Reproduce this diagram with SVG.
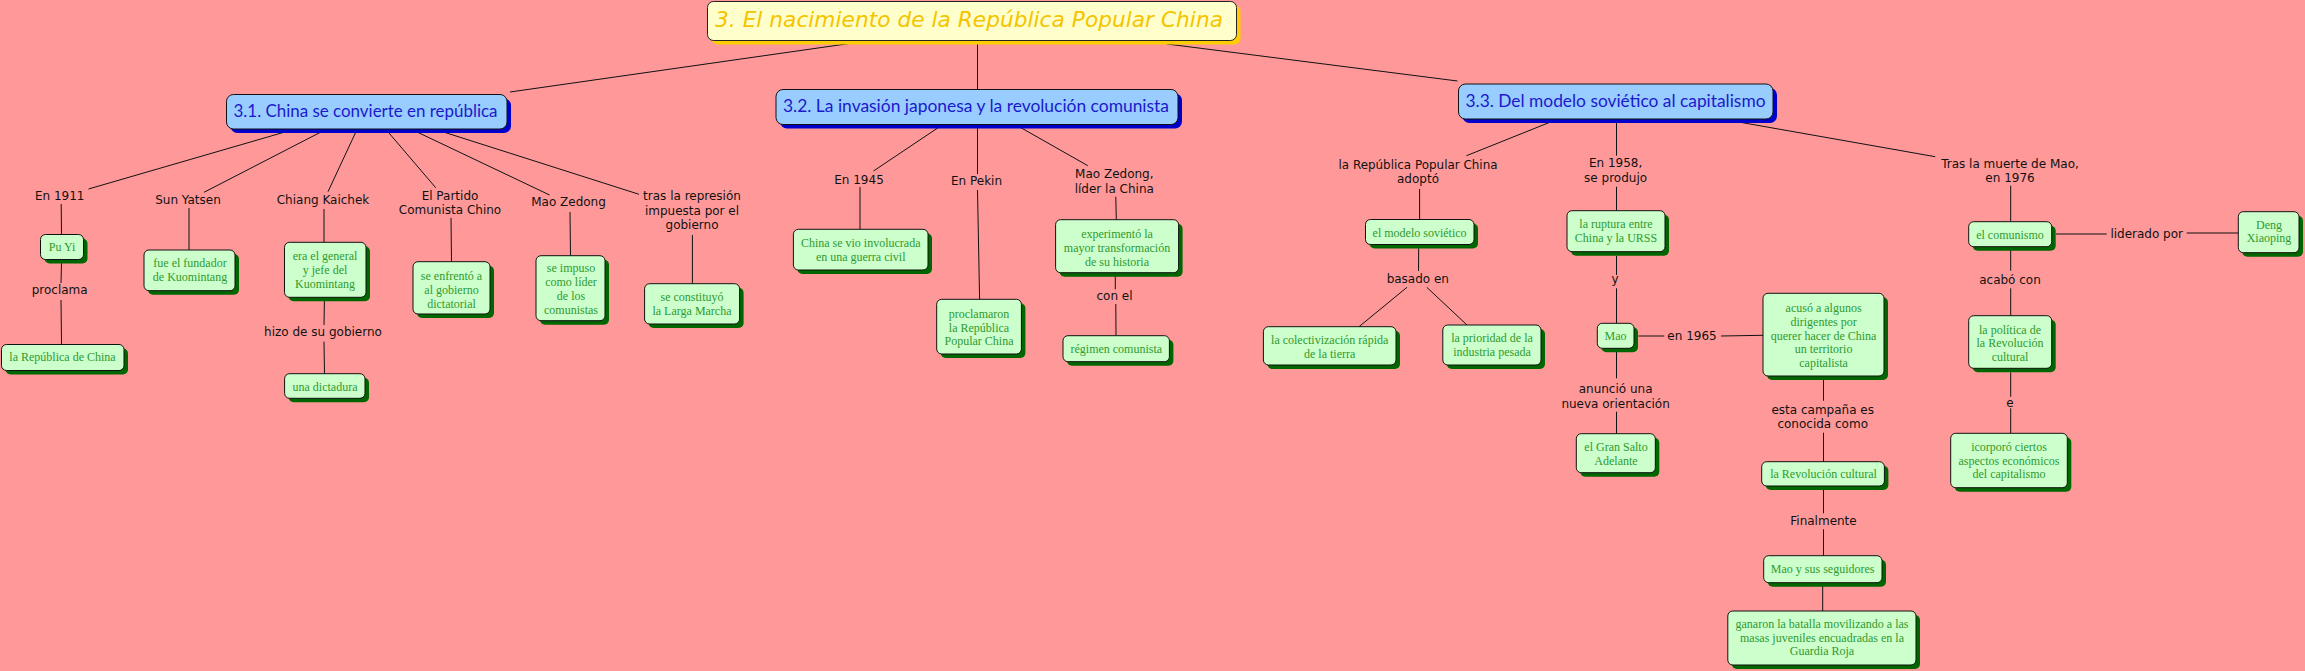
<svg xmlns="http://www.w3.org/2000/svg" width="2305" height="671" viewBox="0 0 2305 671">
<style>
.bg{fill:#ff9999}
.tsh{fill:#ffcc00}
.tbx{fill:#ffffcc;stroke:#222;stroke-width:1}
.ttx{font-family:"DejaVu Sans",sans-serif;font-style:italic;font-size:21px;fill:#f5c400}
.ssh{fill:#0000cc}
.sbx{fill:#99ccff;stroke:#111;stroke-width:1}
.stx{font-family:Lato,"Open Sans",sans-serif;font-size:17px;fill:#1a1acc}
.csh{fill:#006600}
.cbx{fill:#ccffcc;stroke:#111;stroke-width:1}
.ctx{font-family:"Liberation Serif",serif;font-size:12px;fill:#2f9a2f;text-anchor:middle}
.ltx{font-family:"DejaVu Sans",sans-serif;font-size:12px;fill:#111;text-anchor:middle}
#connectors line{stroke:#111;stroke-width:1}
</style>
<rect class="bg" x="0" y="0" width="2305" height="671"/>

<g id="connectors">
<line x1="510" y1="92" x2="853" y2="43"/>
<line x1="977.5" y1="41" x2="977.5" y2="89"/>
<line x1="1167" y1="44" x2="1457.5" y2="81"/>
<line x1="293.5" y1="129.5" x2="88.5" y2="189"/>
<line x1="325.8" y1="129.5" x2="204" y2="192.3"/>
<line x1="357" y1="129.5" x2="328" y2="191.7"/>
<line x1="386" y1="129.5" x2="435.7" y2="187.7"/>
<line x1="411.8" y1="129.5" x2="549.6" y2="195"/>
<line x1="435.7" y1="129.5" x2="639" y2="194.3"/>
<line x1="61.2" y1="204" x2="61.5" y2="234"/>
<line x1="61.5" y1="263" x2="61" y2="283"/>
<line x1="61" y1="300" x2="61.5" y2="344"/>
<line x1="189" y1="208" x2="189" y2="250"/>
<line x1="324" y1="209" x2="324" y2="242"/>
<line x1="324.4" y1="301" x2="324" y2="325"/>
<line x1="324" y1="341.7" x2="324.5" y2="373.7"/>
<line x1="451" y1="218" x2="451.5" y2="261.7"/>
<line x1="570" y1="212" x2="570.5" y2="255.7"/>
<line x1="692.4" y1="235" x2="692.4" y2="283.7"/>
<line x1="942.9" y1="124.5" x2="873.5" y2="171"/>
<line x1="977.5" y1="124.5" x2="977.5" y2="174"/>
<line x1="977.5" y1="190" x2="979.6" y2="299.3"/>
<line x1="1015.3" y1="124.5" x2="1087.8" y2="165.7"/>
<line x1="860" y1="187" x2="860" y2="229.3"/>
<line x1="1115.8" y1="196.7" x2="1116.3" y2="219.7"/>
<line x1="1115.3" y1="273" x2="1115.3" y2="289.3"/>
<line x1="1115.8" y1="304" x2="1116" y2="335.7"/>
<line x1="1558" y1="119" x2="1466.5" y2="155.7"/>
<line x1="1616.5" y1="119" x2="1616.5" y2="155.7"/>
<line x1="1733" y1="121" x2="1935.2" y2="156.7"/>
<line x1="1419.6" y1="189" x2="1419.6" y2="219.3"/>
<line x1="1418.7" y1="248.3" x2="1418.5" y2="271"/>
<line x1="1407" y1="287.3" x2="1359" y2="326.7"/>
<line x1="1426.8" y1="287.3" x2="1467" y2="325"/>
<line x1="1616.5" y1="186.7" x2="1616.5" y2="210.7"/>
<line x1="1616.5" y1="256" x2="1616.5" y2="275"/>
<line x1="1616.5" y1="288.3" x2="1616.5" y2="323.3"/>
<line x1="1638.4" y1="336" x2="1664.3" y2="336"/>
<line x1="1721" y1="336" x2="1763" y2="335.3"/>
<line x1="1616.5" y1="352" x2="1616.5" y2="378.3"/>
<line x1="1616.5" y1="411.7" x2="1616.5" y2="433.7"/>
<line x1="1823.5" y1="380" x2="1823.5" y2="400.7"/>
<line x1="1823.5" y1="432.7" x2="1823.5" y2="461.7"/>
<line x1="1823.5" y1="490" x2="1823.5" y2="513.3"/>
<line x1="1823.5" y1="529.3" x2="1823.5" y2="555.7"/>
<line x1="1822.7" y1="586" x2="1822.7" y2="611"/>
<line x1="2010.7" y1="185.7" x2="2010.7" y2="221.7"/>
<line x1="2056" y1="234" x2="2106.7" y2="234"/>
<line x1="2186.7" y1="233" x2="2238.3" y2="233"/>
<line x1="2010.7" y1="250" x2="2010.7" y2="270.7"/>
<line x1="2010.7" y1="288.3" x2="2010.7" y2="315.7"/>
<line x1="2010.7" y1="372.3" x2="2010.7" y2="396.7"/>
<line x1="2010.7" y1="408.3" x2="2010.7" y2="433.3"/>
</g>

<g id="title">
<rect class="tsh" x="711.5" y="5.5" width="529" height="39" rx="6"/>
<rect class="tbx" x="707.5" y="1.5" width="529" height="39" rx="6"/>
<text class="ttx" x="715" y="27" textLength="508" lengthAdjust="spacingAndGlyphs">3. El nacimiento de la República Popular China</text>
</g>

<g id="s31">
<rect class="ssh" x="230.5" y="98.5" width="280.5" height="34.5" rx="7"/>
<rect class="sbx" x="226.5" y="94.5" width="280.5" height="34.5" rx="7"/>
<text class="stx" x="233.5" y="117" textLength="264" lengthAdjust="spacingAndGlyphs">3.1. China se convierte en república</text>
</g>
<g id="s32">
<rect class="ssh" x="780" y="93.5" width="402" height="35" rx="7"/>
<rect class="sbx" x="776" y="89.5" width="402" height="35" rx="7"/>
<text class="stx" x="783" y="112" textLength="386" lengthAdjust="spacingAndGlyphs">3.2. La invasión japonesa y la revolución comunista</text>
</g>
<g id="s33">
<rect class="ssh" x="1462.5" y="88" width="314.5" height="35" rx="7"/>
<rect class="sbx" x="1458.5" y="84" width="314.5" height="35" rx="7"/>
<text class="stx" x="1465.5" y="107" textLength="300" lengthAdjust="spacingAndGlyphs">3.3. Del modelo soviético al capitalismo</text>
</g>

<g id="c-puyi"><rect class="csh" x="44.5" y="238.5" width="43" height="25" rx="5"/><rect class="cbx" x="40.5" y="234.5" width="43" height="25" rx="5"/><text class="ctx" x="62" y="251">Pu Yi</text></g>
<g id="c-repchina"><rect class="csh" x="5.5" y="348.5" width="122.5" height="26" rx="5"/><rect class="cbx" x="1.5" y="344.5" width="122.5" height="26" rx="5"/><text class="ctx" x="62.5" y="361">la República de China</text></g>
<g id="c-fundador"><rect class="csh" x="148" y="254" width="91" height="40.7" rx="5"/><rect class="cbx" x="144" y="250" width="91" height="40.7" rx="5"/><text class="ctx"><tspan x="190" y="267">fue el fundador</tspan><tspan x="190" y="281">de Kuomintang</tspan></text></g>
<g id="c-general"><rect class="csh" x="288.5" y="246.3" width="81.5" height="55" rx="5"/><rect class="cbx" x="284.5" y="242.3" width="81.5" height="55" rx="5"/><text class="ctx"><tspan x="325" y="260">era el general</tspan><tspan x="325" y="274">y jefe del</tspan><tspan x="325" y="288">Kuomintang</tspan></text></g>
<g id="c-dictadura"><rect class="csh" x="288.6" y="377.7" width="80.4" height="24.6" rx="5"/><rect class="cbx" x="284.6" y="373.7" width="80.4" height="24.6" rx="5"/><text class="ctx" x="325" y="391">una dictadura</text></g>
<g id="c-enfrento"><rect class="csh" x="417" y="265.7" width="77" height="52.3" rx="5"/><rect class="cbx" x="413" y="261.7" width="77" height="52.3" rx="5"/><text class="ctx"><tspan x="451.5" y="279.5">se enfrentó a</tspan><tspan x="451.5" y="293.5">al gobierno</tspan><tspan x="451.5" y="307.5">dictatorial</tspan></text></g>
<g id="c-impuso"><rect class="csh" x="540" y="259.7" width="69" height="65" rx="5"/><rect class="cbx" x="536" y="255.7" width="69" height="65" rx="5"/><text class="ctx"><tspan x="571" y="272">se impuso</tspan><tspan x="571" y="286">como líder</tspan><tspan x="571" y="300">de los</tspan><tspan x="571" y="314">comunistas</tspan></text></g>
<g id="c-larga"><rect class="csh" x="648.6" y="287.7" width="95" height="40.3" rx="5"/><rect class="cbx" x="644.6" y="283.7" width="95" height="40.3" rx="5"/><text class="ctx"><tspan x="692" y="300.5">se constituyó</tspan><tspan x="692" y="314.5">la Larga Marcha</tspan></text></g>
<g id="c-guerra"><rect class="csh" x="797.4" y="233.3" width="134.6" height="40.7" rx="5"/><rect class="cbx" x="793.4" y="229.3" width="134.6" height="40.7" rx="5"/><text class="ctx"><tspan x="860.7" y="247">China se vio involucrada</tspan><tspan x="860.7" y="261">en una guerra civil</tspan></text></g>
<g id="c-proclamaron"><rect class="csh" x="940.7" y="303.3" width="84.7" height="54.7" rx="5"/><rect class="cbx" x="936.7" y="299.3" width="84.7" height="54.7" rx="5"/><text class="ctx"><tspan x="979" y="317.5">proclamaron</tspan><tspan x="979" y="331.5">la República</tspan><tspan x="979" y="345">Popular China</tspan></text></g>
<g id="c-experimento"><rect class="csh" x="1059.6" y="223.7" width="123" height="53" rx="5"/><rect class="cbx" x="1055.6" y="219.7" width="123" height="53" rx="5"/><text class="ctx"><tspan x="1117" y="237.5">experimentó la</tspan><tspan x="1117" y="251.5">mayor transformación</tspan><tspan x="1117" y="265.5">de su historia</tspan></text></g>
<g id="c-regimen"><rect class="csh" x="1067" y="339.7" width="106.4" height="26" rx="5"/><rect class="cbx" x="1063" y="335.7" width="106.4" height="26" rx="5"/><text class="ctx" x="1116.3" y="352.5">régimen comunista</text></g>
<g id="c-modelo"><rect class="csh" x="1369.5" y="223.5" width="108.5" height="25" rx="5"/><rect class="cbx" x="1365.5" y="219.5" width="108.5" height="25" rx="5"/><text class="ctx" x="1419.6" y="236.5">el modelo soviético</text></g>
<g id="c-colectiv"><rect class="csh" x="1267.4" y="330.7" width="132.6" height="38.3" rx="5"/><rect class="cbx" x="1263.4" y="326.7" width="132.6" height="38.3" rx="5"/><text class="ctx"><tspan x="1329.7" y="344">la colectivización rápida</tspan><tspan x="1329.7" y="358">de la tierra</tspan></text></g>
<g id="c-prioridad"><rect class="csh" x="1446.8" y="329" width="98.2" height="40" rx="5"/><rect class="cbx" x="1442.8" y="325" width="98.2" height="40" rx="5"/><text class="ctx"><tspan x="1492" y="341.5">la prioridad de la</tspan><tspan x="1492" y="355.5">industria pesada</tspan></text></g>
<g id="c-ruptura"><rect class="csh" x="1571" y="214.7" width="98" height="41" rx="5"/><rect class="cbx" x="1567" y="210.7" width="98" height="41" rx="5"/><text class="ctx"><tspan x="1616" y="228">la ruptura entre</tspan><tspan x="1616" y="242">China y la URSS</tspan></text></g>
<g id="c-mao"><rect class="csh" x="1601.3" y="327.3" width="36.7" height="25" rx="5"/><rect class="cbx" x="1597.3" y="323.3" width="36.7" height="25" rx="5"/><text class="ctx" x="1615.6" y="340">Mao</text></g>
<g id="c-acuso"><rect class="csh" x="1767" y="297.3" width="121" height="82.7" rx="5"/><rect class="cbx" x="1763" y="293.3" width="121" height="82.7" rx="5"/><text class="ctx"><tspan x="1823.6" y="311.5">acusó a algunos</tspan><tspan x="1823.6" y="325.5">dirigentes por</tspan><tspan x="1823.6" y="339.5">querer hacer de China</tspan><tspan x="1823.6" y="353">un territorio</tspan><tspan x="1823.6" y="367">capitalista</tspan></text></g>
<g id="c-gransalto"><rect class="csh" x="1580.3" y="437.7" width="79" height="39" rx="5"/><rect class="cbx" x="1576.3" y="433.7" width="79" height="39" rx="5"/><text class="ctx"><tspan x="1616" y="451">el Gran Salto</tspan><tspan x="1616" y="464.5">Adelante</tspan></text></g>
<g id="c-revcultural"><rect class="csh" x="1765.7" y="465.7" width="122.7" height="24.3" rx="5"/><rect class="cbx" x="1761.7" y="461.7" width="122.7" height="24.3" rx="5"/><text class="ctx" x="1823.5" y="478">la Revolución cultural</text></g>
<g id="c-seguidores"><rect class="csh" x="1767.7" y="559.7" width="118.3" height="27" rx="5"/><rect class="cbx" x="1763.7" y="555.7" width="118.3" height="27" rx="5"/><text class="ctx" x="1822.7" y="573">Mao y sus seguidores</text></g>
<g id="c-ganaron"><rect class="csh" x="1731.8" y="615" width="188.2" height="54" rx="5"/><rect class="cbx" x="1727.8" y="611" width="188.2" height="54" rx="5"/><text class="ctx"><tspan x="1822" y="628">ganaron la batalla movilizando a las</tspan><tspan x="1822" y="641.5">masas juveniles encuadradas en la</tspan><tspan x="1822" y="655">Guardia Roja</tspan></text></g>
<g id="c-comunismo"><rect class="csh" x="1972.7" y="225.7" width="83" height="25" rx="5"/><rect class="cbx" x="1968.7" y="221.7" width="83" height="25" rx="5"/><text class="ctx" x="2010" y="238.5">el comunismo</text></g>
<g id="c-deng"><rect class="csh" x="2242.3" y="215.7" width="60.7" height="41" rx="5"/><rect class="cbx" x="2238.3" y="211.7" width="60.7" height="41" rx="5"/><text class="ctx"><tspan x="2269" y="228.5">Deng</tspan><tspan x="2269" y="242">Xiaoping</tspan></text></g>
<g id="c-politica"><rect class="csh" x="1972.7" y="319.7" width="83" height="52.6" rx="5"/><rect class="cbx" x="1968.7" y="315.7" width="83" height="52.6" rx="5"/><text class="ctx"><tspan x="2010" y="333.5">la política de</tspan><tspan x="2010" y="347">la Revolución</tspan><tspan x="2010" y="361">cultural</tspan></text></g>
<g id="c-icorporo"><rect class="csh" x="1954.7" y="437.3" width="116.6" height="54.4" rx="5"/><rect class="cbx" x="1950.7" y="433.3" width="116.6" height="54.4" rx="5"/><text class="ctx"><tspan x="2009" y="451">icorporó ciertos</tspan><tspan x="2009" y="464.5">aspectos económicos</tspan><tspan x="2009" y="478">del capitalismo</tspan></text></g>

<g id="l-en1911"><text class="ltx" x="59.7" y="200">En 1911</text></g>
<g id="l-proclama"><text class="ltx" x="59.7" y="294">proclama</text></g>
<g id="l-sunyatsen"><text class="ltx" x="188" y="204">Sun Yatsen</text></g>
<g id="l-chiang"><text class="ltx" x="323" y="203.5">Chiang Kaichek</text></g>
<g id="l-partido"><text class="ltx"><tspan x="450" y="199.5">El Partido</tspan><tspan x="450" y="214">Comunista Chino</tspan></text></g>
<g id="l-maozedong"><text class="ltx" x="568.5" y="206">Mao Zedong</text></g>
<g id="l-represion"><text class="ltx"><tspan x="692" y="200">tras la represión</tspan><tspan x="692" y="214.5">impuesta por el</tspan><tspan x="692" y="229">gobierno</tspan></text></g>
<g id="l-hizo"><text class="ltx" x="323" y="335.5">hizo de su gobierno</text></g>
<g id="l-en1945"><text class="ltx" x="859" y="183.5">En 1945</text></g>
<g id="l-pekin"><text class="ltx" x="976.5" y="185">En Pekin</text></g>
<g id="l-lider"><text class="ltx"><tspan x="1114.3" y="178">Mao Zedong,</tspan><tspan x="1114.3" y="192.7">líder la China</tspan></text></g>
<g id="l-conel"><text class="ltx" x="1114.5" y="300">con el</text></g>
<g id="l-adopto"><text class="ltx" x="1418" y="169.3" textLength="159" lengthAdjust="spacingAndGlyphs">la República Popular China</text><text class="ltx" x="1418" y="183.3">adoptó</text></g>
<g id="l-basado"><text class="ltx" x="1417.8" y="283">basado en</text></g>
<g id="l-en1958"><text class="ltx"><tspan x="1615.6" y="167">En 1958,</tspan><tspan x="1615.6" y="181.5">se produjo</tspan></text></g>
<g id="l-y"><text class="ltx" x="1615" y="283">y</text></g>
<g id="l-en1965"><text class="ltx" x="1692" y="340">en 1965</text></g>
<g id="l-anuncio"><text class="ltx"><tspan x="1615.6" y="393">anunció una</tspan><tspan x="1615.6" y="407.5">nueva orientación</tspan></text></g>
<g id="l-campana"><text class="ltx"><tspan x="1822.7" y="413.5">esta campaña es</tspan><tspan x="1822.7" y="428">conocida como</tspan></text></g>
<g id="l-finalmente"><text class="ltx" x="1823.5" y="525">Finalmente</text></g>
<g id="l-muerte"><text class="ltx"><tspan x="2010" y="167.5">Tras la muerte de Mao,</tspan><tspan x="2010" y="182">en 1976</tspan></text></g>
<g id="l-liderado"><text class="ltx" x="2146.7" y="237.5">liderado por</text></g>
<g id="l-acabo"><text class="ltx" x="2010" y="284">acabó con</text></g>
<g id="l-e"><text class="ltx" x="2010" y="406.5">e</text></g>
</svg>
